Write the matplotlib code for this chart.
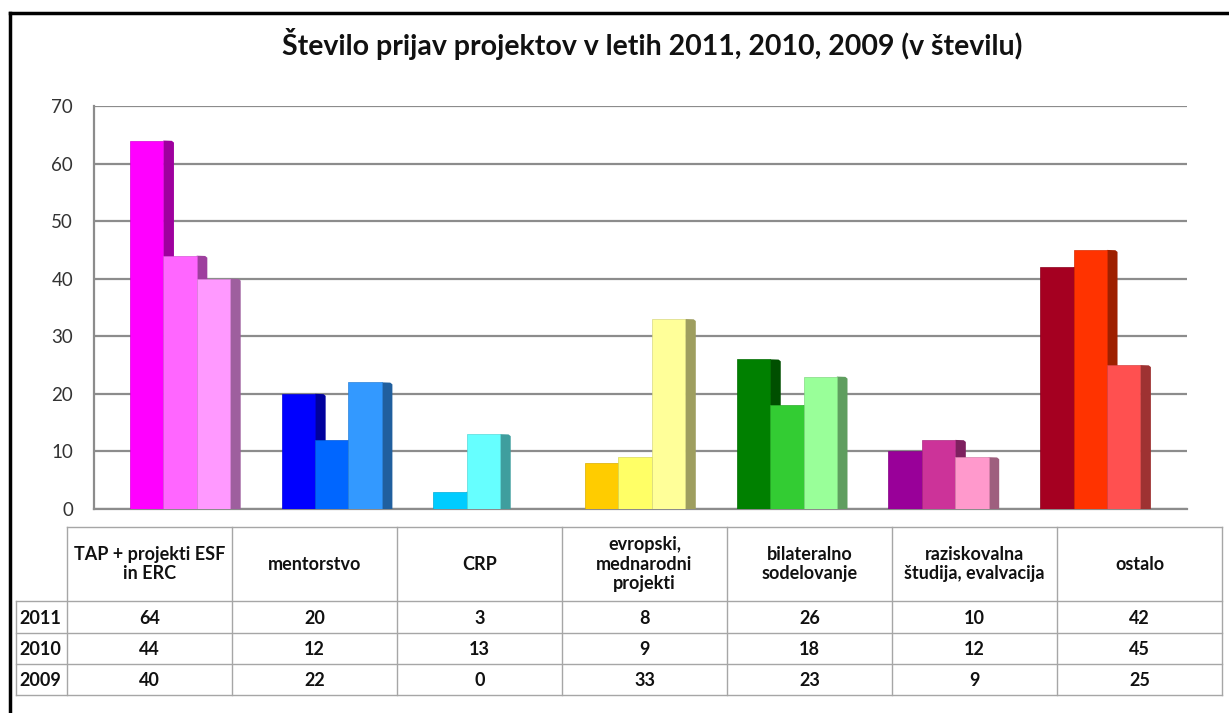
import matplotlib
matplotlib.use('Agg')
import matplotlib.pyplot as plt
from matplotlib.patches import Polygon
from matplotlib.colors import to_rgb

plt.rcParams['font.family'] = ['Lato', 'DejaVu Sans']

TITLE = 'Število prijav projektov v letih 2011, 2010, 2009 (v številu)'
categories = ['TAP + projekti ESF\nin ERC', 'mentorstvo', 'CRP',
              'evropski,\nmednarodni\nprojekti', 'bilateralno\nsodelovanje',
              'raziskovalna\nštudija, evalvacija', 'ostalo']
years = ['2011', '2010', '2009']
v2011 = [64, 20, 3, 8, 26, 10, 42]
v2010 = [44, 12, 13, 9, 18, 12, 45]
v2009 = [40, 22, 0, 33, 23, 9, 25]
series = [v2011, v2010, v2009]

# one colour per bar: [category][year]
colors = [
    ['#FF00FF', '#FF66FF', '#FF99FF'],
    ['#0000FF', '#0066FF', '#3399FF'],
    ['#00CCFF', '#66FFFF', '#99FFFF'],
    ['#FFCC00', '#FFFF66', '#FFFF99'],
    ['#008000', '#33CC33', '#99FF99'],
    ['#990099', '#CC3399', '#FF99CC'],
    ['#A50021', '#FF3300', '#FF5050'],
]

W, H = 1229, 713
fig = plt.figure(figsize=(W / 100, H / 100), dpi=100)


def darker(c, f=0.62):
    r, g, b = to_rgb(c)
    return (r * f, g * f, b * f)


# bar area: pixels 94..1187 wide, 106..509 tall
ax = fig.add_axes([94 / W, 1 - 509 / H, (1187 - 94) / W, (509 - 106) / H])
xmin = -0.567
ax.set_xlim(xmin, xmin + 7.205)
ax.set_ylim(0, 70)
ax.set_yticks(range(0, 71, 10))
ax.set_xticks([])
ax.tick_params(axis='y', length=0, pad=15, labelsize=13.5, labelcolor='#333333')
ax.yaxis.grid(True, color='#8c8c8c', lw=1.6)
ax.set_axisbelow(True)
for s in ['top', 'right']:
    ax.spines[s].set_visible(False)
for s in ['left', 'bottom']:
    ax.spines[s].set_color('#8c8c8c')
    ax.spines[s].set_linewidth(1.6)

bw = 0.22
depth = 0.07
z = 3
for ci in range(len(categories)):
    for yi, vals in enumerate(series):
        v = vals[ci]
        if v == 0:
            continue
        x0 = ci + (yi - 1) * bw - bw / 2
        col = colors[ci][yi]
        ax.bar(x0, v, width=bw, align='edge', color=col, zorder=z + 1,
               edgecolor=darker(col, 0.85), linewidth=0.5)
        side = Polygon([(x0 + bw, 0), (x0 + bw + depth, 0),
                        (x0 + bw + depth, v - 0.35), (x0 + bw + depth * 0.8, v - 0.05),
                        (x0 + bw, v)], closed=True,
                       facecolor=darker(col), edgecolor='none', zorder=z)
        ax.add_patch(side)
        z += 2

# overlay in pixel coordinates for frame, title and data table
ov = fig.add_axes([0, 0, 1, 1], zorder=-1)
ov.set_xlim(0, W)
ov.set_ylim(H, 0)
ov.axis('off')
ov.plot([10, W], [13, 13], color='black', lw=2.5)
ov.plot([10, 10], [13, H], color='black', lw=2.5)
ov.text(652, 44, TITLE, ha='center', va='center', fontsize=20.5,
        fontweight='bold', color='#111111')

grid_c = '#a6a6a6'
col_left = 67
col_w = 165
tab_right = col_left + col_w * len(categories)
row_y = [527, 601, 633, 664, 695]
year_left = 16
fs = 13

# horizontal lines
ov.plot([col_left, tab_right], [row_y[0]] * 2, color=grid_c, lw=1)
for y in row_y[1:]:
    ov.plot([year_left, tab_right], [y, y], color=grid_c, lw=1)
# vertical lines
for i in range(len(categories) + 1):
    x = col_left + i * col_w
    ov.plot([x, x], [row_y[0], row_y[-1]], color=grid_c, lw=1)
ov.plot([year_left, year_left], [row_y[1], row_y[-1]], color=grid_c, lw=1)

for i, name in enumerate(categories):
    cx = col_left + (i + 0.5) * col_w
    ov.text(cx, (row_y[0] + row_y[1]) / 2, name, ha='center', va='center',
            fontsize=fs, fontweight='bold', linespacing=1.2, color='#111111')
    for r, vals in enumerate(series):
        ov.text(cx, (row_y[r + 1] + row_y[r + 2]) / 2 + 1, str(vals[i]),
                ha='center', va='center', fontsize=fs, fontweight='bold',
                color='#111111')
for r, yr in enumerate(years):
    ov.text(year_left + 3, (row_y[r + 1] + row_y[r + 2]) / 2 + 1, yr,
            ha='left', va='center', fontsize=fs, fontweight='bold',
            color='#111111')

fig.savefig('out.png', dpi=100)
